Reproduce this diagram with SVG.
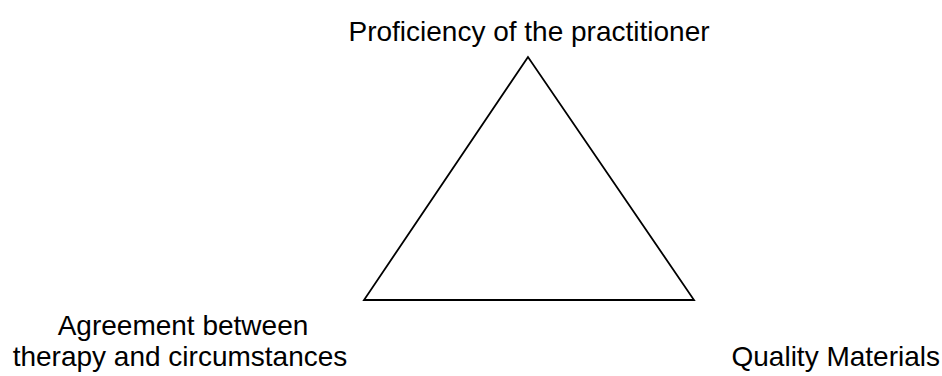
<svg xmlns="http://www.w3.org/2000/svg" width="942" height="376" viewBox="0 0 942 376">
<style>
.lbl{font-family:"Liberation Sans",Arial,sans-serif;font-size:28px;fill:#000}
.tri{fill:#fff;stroke:#000;stroke-width:1.8;stroke-linejoin:miter}
</style>
<rect width="942" height="376" fill="#fff"/>
<g id="connectors">
<polygon class="tri" points="528,57 364,300 694,300"/>
</g>
<g id="node-top"><text class="lbl" x="529" y="41" text-anchor="middle">Proficiency of the practitioner</text></g>
<g id="node-left"><text class="lbl" x="183" y="335" text-anchor="middle">Agreement between</text><text class="lbl" x="180" y="366" text-anchor="middle">therapy and circumstances</text></g>
<g id="node-right"><text class="lbl" x="940" y="366" text-anchor="end">Quality Materials</text></g>
</svg>
